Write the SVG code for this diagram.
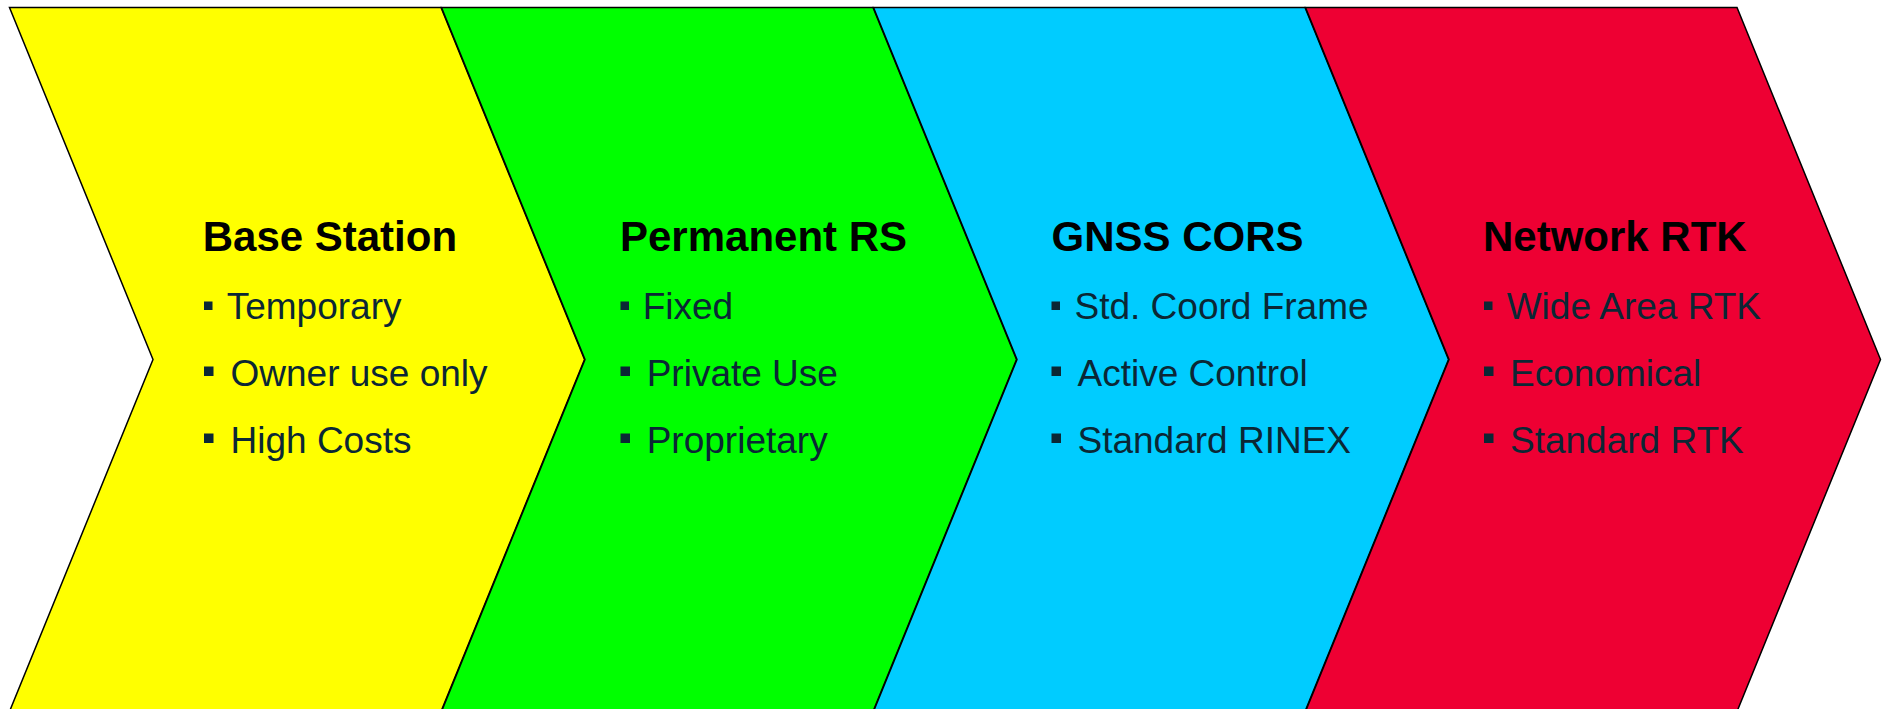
<svg xmlns="http://www.w3.org/2000/svg" width="1883" height="709" viewBox="0 0 1883 709">
  <defs>
    <!-- one chevron step: flat top/bottom, notch on the left, point on the right -->
    <path id="chev" d="M0,7.5 L431.5,7.5 L575,359.5 L431.5,711.5 L0,711.5 L143.5,359.5 Z"/>
  </defs>
  <style>
    .step { stroke: #000; stroke-width: 1.5; stroke-linejoin: miter; }
    .title { font-family: "Liberation Sans", Arial, sans-serif; font-weight: bold; font-size: 42px; fill: #000; }
    .item { font-family: "Liberation Sans", Arial, sans-serif; font-size: 37px; fill: #0B2735; }
    .dot { fill: #0B2735; }
  </style>
  <rect width="1883" height="709" fill="#fff"/>

  <g id="base-station">
    <use href="#chev" class="step" fill="#FFFF00" x="9.5"/>
    <text class="title" x="202.7" y="251">Base Station</text>
    <rect class="dot" x="204" y="301.5" width="8.5" height="8.5"/>
    <text class="item" x="226.7" y="318.5">Temporary</text>
    <rect class="dot" x="204" y="366.5" width="9.5" height="9.5"/>
    <text class="item" x="230.5" y="385.5">Owner use only</text>
    <rect class="dot" x="204" y="433.5" width="9.5" height="9.5"/>
    <text class="item" x="230.5" y="452.5">High Costs</text>
  </g>

  <g id="permanent-rs">
    <use href="#chev" class="step" fill="#00FF00" x="441.5"/>
    <text class="title" x="620" y="251">Permanent RS</text>
    <rect class="dot" x="620.5" y="301.5" width="8.5" height="8.5"/>
    <text class="item" x="642.7" y="318.5">Fixed</text>
    <rect class="dot" x="620.5" y="366.5" width="9.5" height="9.5"/>
    <text class="item" x="646.7" y="385.5">Private Use</text>
    <rect class="dot" x="620.5" y="433.5" width="9.5" height="9.5"/>
    <text class="item" x="646.7" y="452.5">Proprietary</text>
  </g>

  <g id="gnss-cors">
    <use href="#chev" class="step" fill="#00CCFF" x="873.5"/>
    <text class="title" x="1051.5" y="251">GNSS CORS</text>
    <rect class="dot" x="1051.5" y="301.5" width="8.5" height="8.5"/>
    <text class="item" x="1074.5" y="318.5">Std. Coord Frame</text>
    <rect class="dot" x="1051.5" y="366.5" width="9.5" height="9.5"/>
    <text class="item" x="1077.5" y="385.5">Active Control</text>
    <rect class="dot" x="1051.5" y="433.5" width="9.5" height="9.5"/>
    <text class="item" x="1077.5" y="452.5">Standard RINEX</text>
  </g>

  <g id="network-rtk">
    <use href="#chev" class="step" fill="#EE0033" x="1305.5"/>
    <text class="title" x="1483" y="251">Network RTK</text>
    <rect class="dot" x="1484" y="301.5" width="8.5" height="8.5"/>
    <text class="item" x="1506.7" y="318.5">Wide Area RTK</text>
    <rect class="dot" x="1484" y="366.5" width="9.5" height="9.5"/>
    <text class="item" x="1510" y="385.5">Economical</text>
    <rect class="dot" x="1484" y="433.5" width="9.5" height="9.5"/>
    <text class="item" x="1510" y="452.5">Standard RTK</text>
  </g>

  <!-- the steps abut directly; there are no separate connectors -->
  <g id="connectors"/>
</svg>
